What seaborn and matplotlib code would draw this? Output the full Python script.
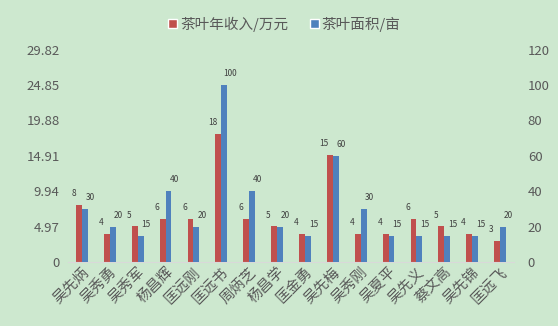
import matplotlib
matplotlib.use("Agg")
import matplotlib.pyplot as plt
from matplotlib.patches import Patch
import seaborn as sns
import pandas as pd
import numpy as np

names = ["吴先炳", "吴秀勇", "吴秀军", "杨昌辉", "匡远刚", "匡远书", "周炳芝", "杨昌学",
         "匡金勇", "吴先梅", "吴秀刚", "吴夏平", "吴先义", "蔡文高", "吴先锦", "匡远飞"]
income = [8, 4, 5, 6, 6, 18, 6, 5, 4, 15, 4, 4, 6, 5, 4, 3]
area = [30, 20, 15, 40, 20, 100, 40, 20, 15, 60, 30, 15, 15, 15, 15, 20]
series = ["茶叶年收入/万元", "茶叶面积/亩"]
left_ticks = [0, 4.97, 9.94, 14.91, 19.88, 24.85, 29.82]
left_tick_labels = ["0", "4.97", "9.94", "14.91", "19.88", "24.85", "29.82"]
right_ticks = [0, 20, 40, 60, 80, 100, 120]

sns.set_style("white")
plt.rcParams["font.family"] = ["Noto Sans CJK SC", "DejaVu Sans"]

bg = "#CDE8CF"
red = "#C0504D"
blue = "#4F81BD"
txt = "#595959"

n = len(names)
# Each axis gets both series so the bars dodge side by side; the series that
# belongs to the other axis is left empty (NaN) there.
df_left = pd.DataFrame({
    "name": names * 2,
    "value": list(map(float, income)) + [np.nan] * n,
    "series": [series[0]] * n + [series[1]] * n,
})
df_right = pd.DataFrame({
    "name": names * 2,
    "value": [np.nan] * n + list(map(float, area)),
    "series": [series[0]] * n + [series[1]] * n,
})

fig = plt.figure(figsize=(5.58, 3.26), dpi=100, facecolor=bg)
ax1 = fig.add_axes([0.122, 0.196, 0.799, 0.652])
ax1.set_facecolor(bg)
ax2 = ax1.twinx()

pal = {series[0]: red, series[1]: blue}
sns.barplot(data=df_left, x="name", y="value", hue="series", hue_order=series,
            palette=pal, width=0.42, ax=ax1, legend=False, saturation=1,
            linewidth=0)
sns.barplot(data=df_right, x="name", y="value", hue="series", hue_order=series,
            palette=pal, width=0.42, ax=ax2, legend=False, saturation=1,
            linewidth=0)

ax1.set_ylim(0, 29.82)
ax2.set_ylim(0, 120)
ax1.set_xlim(-0.5, n - 0.5)

ax1.set_yticks(left_ticks)
ax1.set_yticklabels(left_tick_labels)
ax2.set_yticks(right_ticks)
ax1.tick_params(axis="y", length=0, labelsize=9.5, labelcolor=txt, pad=6)
ax2.tick_params(axis="y", length=0, labelsize=9.5, labelcolor=txt, pad=10)
ax1.tick_params(axis="x", length=0, labelsize=10.5, labelcolor=txt, pad=2)
for lab in ax1.get_xticklabels():
    lab.set_rotation(45)
    lab.set_ha("right")
    lab.set_rotation_mode("anchor")
ax1.set_xlabel("")
ax1.set_ylabel("")
ax2.set_ylabel("")

for a in (ax1, ax2):
    for s in a.spines.values():
        s.set_visible(False)
ax1.spines["bottom"].set_visible(True)
ax1.spines["bottom"].set_color("#D9D9D9")

# value labels above each bar
for bar in ax1.patches:
    h = bar.get_height()
    if np.isnan(h) or bar.get_width() == 0:
        continue
    ax1.annotate(f"{h:g}", (bar.get_x() + bar.get_width() / 2, h),
                 xytext=(-4, 5), textcoords="offset points", ha="center",
                 va="bottom", fontsize=6, color="#404040")
for bar in ax2.patches:
    h = bar.get_height()
    if np.isnan(h) or bar.get_width() == 0:
        continue
    ax2.annotate(f"{h:g}", (bar.get_x() + bar.get_width() / 2, h),
                 xytext=(4, 5), textcoords="offset points", ha="center",
                 va="bottom", fontsize=6, color="#404040")

handles = [Patch(facecolor=red, label=series[0]), Patch(facecolor=blue, label=series[1])]
fig.legend(handles=handles, loc="upper center", bbox_to_anchor=(0.51, 0.99), ncol=2,
           frameon=False, fontsize=10.5, labelcolor=txt, handlelength=0.6,
           handleheight=0.6, handletextpad=0.2, columnspacing=1.5)

fig.savefig("out.png", dpi=100, facecolor=bg)
